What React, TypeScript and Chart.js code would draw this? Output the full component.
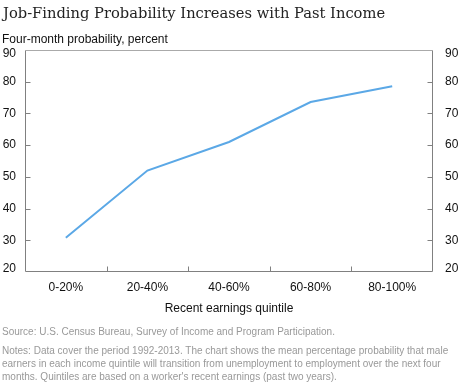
import React, { useEffect, useRef } from "react";
import { Chart, registerables } from "chart.js";

Chart.register(...registerables);

const categories = ["0-20%", "20-40%", "40-60%", "60-80%", "80-100%"];
const probability = [30.8, 52.0, 61.0, 73.6, 78.6];
const yMin = 20;
const yMax = 90;
const yStep = 10;

const titleText = "Job-Finding Probability Increases with Past Income";
const subtitleText = "Four-month probability, percent";
const xAxisTitle = "Recent earnings quintile";
const sourceText = "Source: U.S. Census Bureau, Survey of Income and Program Participation.";
const notesLines = [
  "Notes: Data cover the period 1992-2013. The chart shows the mean percentage probability that male",
  "earners in each income quintile will transition from unemployment to employment over the next four",
  "months. Quintiles are based on a worker's recent earnings (past two years).",
];

const SANS = "'Liberation Sans', Arial, sans-serif";

const framePlugin = {
  id: "frameTicks",
  afterDraw(chart: any) {
    const { ctx, chartArea } = chart;
    const { left, right, top, bottom } = chartArea;
    const L = Math.round(left) + 0.5;
    const R = Math.round(right) - 0.5;
    const T = Math.round(top) + 0.5;
    const B = Math.round(bottom) - 0.5;
    ctx.save();
    ctx.lineWidth = 1;
    ctx.strokeStyle = "#aaaaaa";
    ctx.beginPath();
    ctx.moveTo(L, T);
    ctx.lineTo(R, T);
    ctx.stroke();
    ctx.strokeStyle = "#808080";
    ctx.beginPath();
    ctx.moveTo(L, T);
    ctx.lineTo(L, B);
    ctx.lineTo(R, B);
    ctx.lineTo(R, T);
    ctx.stroke();
    const ys = chart.scales.y;
    const tickVals: number[] = ys.ticks.map((t: any) => t.value);
    tickVals.forEach((v) => {
      if (v <= yMin || v >= yMax) return;
      const py = Math.round(ys.getPixelForValue(v)) + 0.5;
      ctx.beginPath();
      ctx.moveTo(L, py);
      ctx.lineTo(L + 5, py);
      ctx.moveTo(R, py);
      ctx.lineTo(R - 5, py);
      ctx.stroke();
    });
    const xs = chart.scales.x;
    for (let i = 1; i < categories.length; i++) {
      const px = Math.round(xs.getPixelForValue(i - 0.5)) + 0.5;
      ctx.beginPath();
      ctx.moveTo(px, B);
      ctx.lineTo(px, B - 5);
      ctx.stroke();
    }
    // y tick labels on both sides (edge labels kept inside the frame)
    ctx.fillStyle = "#111";
    ctx.font = "12px " + SANS;
    ctx.textBaseline = "middle";
    tickVals.forEach((v) => {
      let py = ys.getPixelForValue(v);
      if (v >= yMax) py += 4;
      if (v <= yMin) py -= 3.5;
      const label = String(v);
      ctx.textAlign = "right";
      ctx.fillText(label, left - 9, py);
      ctx.textAlign = "left";
      ctx.fillText(label, right + 12, py);
    });
    ctx.restore();
  },
};

function ChartCanvas() {
  const ref = useRef<HTMLCanvasElement | null>(null);
  useEffect(() => {
    if (!ref.current) return;
    const tickFont = { family: SANS, size: 12 };
    const chart = new Chart(ref.current, {
      type: "line",
      data: {
        labels: categories,
        datasets: [
          {
            data: probability,
            borderColor: "#5ba8e6",
            borderWidth: 2,
            pointRadius: 0,
            fill: false,
            tension: 0,
          },
        ],
      },
      options: {
        animation: false,
        responsive: true,
        maintainAspectRatio: false,
        layout: { padding: { top: 50, left: 0, right: 27, bottom: 0 } },
        plugins: { legend: { display: false }, tooltip: { enabled: false }, title: { display: false } },
        scales: {
          x: {
            type: "category",
            offset: true,
            grid: { display: false, drawTicks: false },
            border: { display: false },
            ticks: { color: "#111", font: tickFont, padding: 8, maxRotation: 0 },
            afterFit(scale: any) {
              scale.height = 48;
            },
          },
          y: {
            position: "left",
            min: yMin,
            max: yMax,
            grid: { display: false, drawTicks: false },
            border: { display: false },
            ticks: { stepSize: yStep, display: false },
            afterFit(scale: any) {
              scale.width = 25;
            },
          },
        },
      },
      plugins: [framePlugin],
    } as any);
    return () => chart.destroy();
  }, []);
  return (
    <div style={{ position: "absolute", left: 0, top: 0, width: 460, height: 320 }}>
      <canvas ref={ref} />
    </div>
  );
}

export default function App() {
  return (
    <div style={{ position: "absolute", left: 0, top: 0, width: 460, height: 387, background: "#fff", overflow: "hidden" }}>
      <ChartCanvas />
      <div style={{ position: "absolute", left: 3, top: 4, fontFamily: "'DejaVu Serif', Georgia, serif", fontSize: 14.7, color: "#222", whiteSpace: "nowrap" }}>
        {titleText}
      </div>
      <div style={{ position: "absolute", left: 2, top: 32, fontFamily: SANS, fontSize: 12, color: "#111", whiteSpace: "nowrap" }}>
        {subtitleText}
      </div>
      <div style={{ position: "absolute", left: 25, width: 408, top: 301, textAlign: "center", fontFamily: SANS, fontSize: 12, color: "#111", whiteSpace: "nowrap" }}>
        {xAxisTitle}
      </div>
      <div style={{ position: "absolute", left: 2, top: 326, fontFamily: SANS, fontSize: 10, color: "#999", whiteSpace: "nowrap" }}>
        {sourceText}
      </div>
      <div style={{ position: "absolute", left: 2, top: 344, fontFamily: SANS, fontSize: 10, lineHeight: "13px", color: "#999", whiteSpace: "nowrap" }}>
        {notesLines.map((l, i) => (
          <div key={i}>{l}</div>
        ))}
      </div>
    </div>
  );
}
